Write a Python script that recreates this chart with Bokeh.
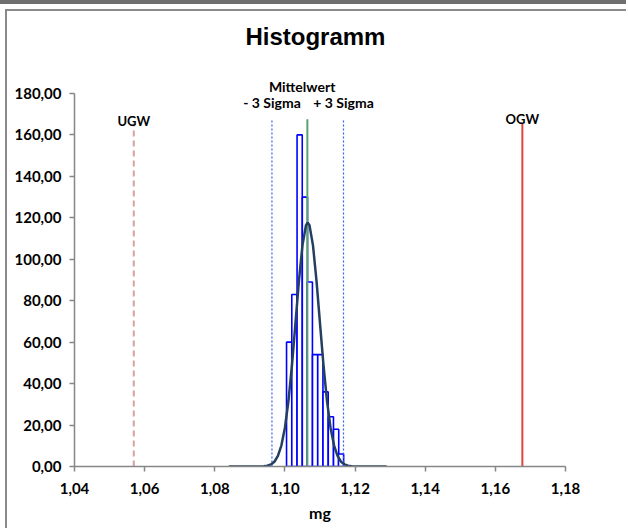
from bokeh.plotting import figure
from bokeh.models import Range1d, FixedTicker, Label
from bokeh.layouts import column
from bokeh.embed import file_html
from bokeh.resources import INLINE

# ---- data ----
x_ticks = [1.04, 1.06, 1.08, 1.10, 1.12, 1.14, 1.16, 1.18]
x_tick_labels = ["1,04", "1,06", "1,08", "1,10", "1,12", "1,14", "1,16", "1,18"]
y_ticks = [0, 20, 40, 60, 80, 100, 120, 140, 160, 180]
y_tick_labels = ["0,00", "20,00", "40,00", "60,00", "80,00", "100,00",
                 "120,00", "140,00", "160,00", "180,00"]

bin_centers = [1.1012, 1.1027, 1.1042, 1.1057, 1.1071, 1.1086,
               1.1101, 1.1116, 1.1131, 1.1146, 1.1160]
bin_width = 0.00148
bin_heights = [60, 83, 160, 130, 89, 54, 54, 36, 24, 18, 6]

curve_x = [1.0840, 1.0900, 1.0940, 1.0950, 1.0960, 1.0970, 1.0980, 1.0990,
           1.1000, 1.1010, 1.1020, 1.1030, 1.1040, 1.1050, 1.1060, 1.1065,
           1.1070, 1.1080, 1.1090, 1.1100, 1.1110, 1.1120, 1.1130, 1.1140,
           1.1150, 1.1160, 1.1170, 1.1180, 1.1190, 1.1230, 1.1290]
curve_y = [0.0, 0.0, 0.1, 0.4, 1.0, 2.3, 5.1, 10.2,
           18.7, 31.6, 48.8, 69.1, 89.7, 106.7, 116.4, 117.7,
           116.4, 106.7, 89.7, 69.1, 48.8, 31.6, 18.7, 10.2,
           5.1, 2.3, 1.0, 0.4, 0.1, 0.0, 0.0]

mean_x = 1.1064
minus3s_x = 1.0963
plus3s_x = 1.1167
ugw_x = 1.0569
ogw_x = 1.1677
center_line_top = 167.5
limit_line_top = 165.5

# ---- figure ----
# frame extends above 180 so the labels above the axis top are not clipped;
# the axis itself is bounded to 0..180
p = figure(width=621, height=519, output_backend="svg", toolbar_location=None,
           x_range=Range1d(1.04, 1.18), y_range=Range1d(0, 215.2),
           min_border_left=67, min_border_right=63, min_border_top=9,
           min_border_bottom=64)
p.margin = (5, 0, 0, 5)
p.styles = {"border-top": "2px solid #8a8a8a", "border-left": "2px solid #8a8a8a"}

p.outline_line_color = None
p.xgrid.visible = False
p.ygrid.visible = False
p.background_fill_color = "white"
p.border_fill_color = "white"

for ax in (p.xaxis[0], p.yaxis[0]):
    ax.axis_line_color = "#868686"
    ax.axis_line_width = 1.5
    ax.major_tick_line_color = "#868686"
    ax.major_tick_line_width = 1.5
    ax.major_tick_out = 5
    ax.major_tick_in = 0
    ax.minor_tick_out = 0
    ax.minor_tick_in = 0
    ax.major_label_text_font = "Lato"
    ax.major_label_text_font_size = "15px"
    ax.major_label_text_font_style = "bold"
    ax.major_label_text_color = "#000000"

p.yaxis.bounds = (0, 180)
p.xaxis.ticker = FixedTicker(ticks=x_ticks)
p.xaxis.major_label_overrides = dict(zip(x_ticks, x_tick_labels))
p.yaxis.ticker = FixedTicker(ticks=y_ticks)
p.yaxis.major_label_overrides = dict(zip(y_ticks, y_tick_labels))
p.xaxis.major_label_standoff = 11
p.yaxis.major_label_standoff = 8
p.xaxis.axis_label = "mg"
p.xaxis.axis_label_text_font = "Lato"
p.xaxis.axis_label_text_font_size = "16px"
p.xaxis.axis_label_text_font_style = "bold"
p.xaxis.axis_label_text_color = "#000000"
p.xaxis.axis_label_standoff = 6

# histogram bars
p.vbar(x=bin_centers, top=bin_heights, width=bin_width, bottom=0,
       fill_color="white", line_color="#0000FF", line_width=1.6)

# limit / sigma / mean lines
p.segment(x0=[ugw_x], y0=[0], x1=[ugw_x], y1=[limit_line_top],
          line_color="#D9A09D", line_width=2, line_dash="6 4")
p.segment(x0=[ogw_x], y0=[0], x1=[ogw_x], y1=[limit_line_top],
          line_color="#E0453D", line_width=2)
p.segment(x0=[minus3s_x, plus3s_x], y0=[0, 0], x1=[minus3s_x, plus3s_x],
          y1=[center_line_top, center_line_top],
          line_color="#2F5BFF", line_width=1.2, line_dash="2 2")
p.segment(x0=[mean_x], y0=[0], x1=[mean_x], y1=[center_line_top],
          line_color="#5DA06C", line_width=2)

# normal curve
p.line(curve_x, curve_y, line_color="#243F60", line_width=2.5)

# labels
def add_label(x, y, text, size, font="Lato"):
    p.add_layout(Label(x=x, y=y, text=text, text_font=font,
                       text_font_size=size, text_font_style="bold",
                       text_color="#000000", text_align="center",
                       text_baseline="middle"))

add_label(1.1087, 207.5, "Histogramm", "24px", "Liberation Sans")
add_label(mean_x - 0.0015, 183.5, "Mittelwert", "14px")
add_label(minus3s_x, 175.5, "- 3 Sigma", "14px")
add_label(plus3s_x, 175.5, "+ 3 Sigma", "14px")
add_label(ugw_x, 166.5, "UGW", "13px")
add_label(ogw_x, 167.5, "OGW", "13px")

layout = column(p, styles={"border-top": "4px solid #6f6f6f"})

open("out.html", "w").write(file_html(layout, INLINE))
